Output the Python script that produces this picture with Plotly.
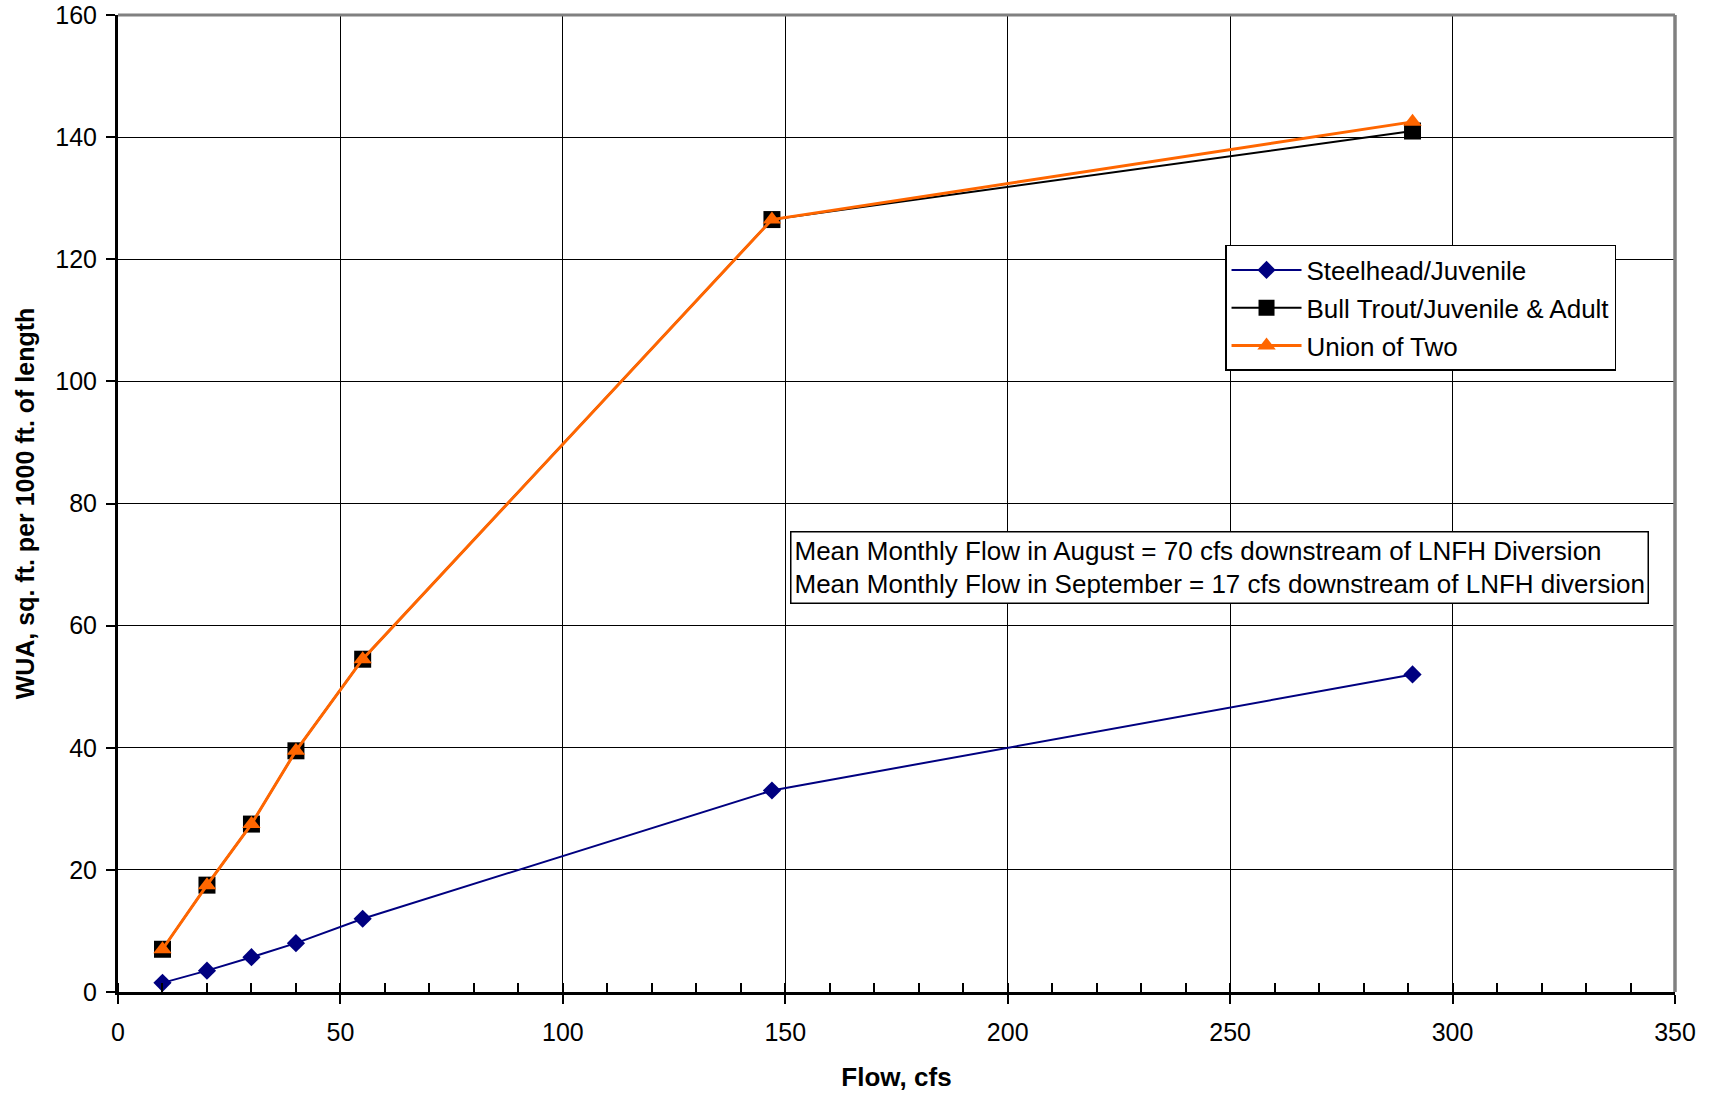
import plotly.graph_objects as go

flow = [10, 20, 30, 40, 55, 147, 291]
steelhead = [1.5, 3.5, 5.7, 8.0, 12.0, 33.0, 52.0]
bull_trout = [7.0, 17.5, 27.5, 39.5, 54.5, 126.5, 141.0]
union_two = [7.0, 17.5, 27.5, 39.5, 54.5, 126.5, 142.5]

x_ticks = [0, 50, 100, 150, 200, 250, 300, 350]
y_ticks = [0, 20, 40, 60, 80, 100, 120, 140, 160]

FONT = "Liberation Sans, Arial, sans-serif"

fig = go.Figure()
fig.add_trace(go.Scatter(x=flow, y=steelhead, name="Steelhead/Juvenile", mode="lines+markers",
                         legendgroup="a",
                         line=dict(color="#000080", width=2),
                         marker=dict(symbol="diamond", size=14, color="#000080")))
fig.add_trace(go.Scatter(x=flow, y=bull_trout, name="Bull Trout/Juvenile & Adult", mode="lines+markers",
                         legendgroup="b",
                         line=dict(color="#000000", width=2),
                         marker=dict(symbol="square", size=17, color="#000000")))
fig.add_trace(go.Scatter(x=flow, y=union_two, name="Union of Two", mode="lines+markers",
                         legendgroup="c",
                         line=dict(color="#FF6600", width=3),
                         marker=dict(symbol="triangle-up", size=16, color="#FF6600")))

fig.update_layout(
    width=1711, height=1094,
    margin=dict(l=118, r=36, t=15, b=102, autoexpand=False),
    paper_bgcolor="white", plot_bgcolor="white",
    font=dict(family=FONT, size=25, color="#000000"),
    showlegend=True,
    legend=dict(x=0.711, y=0.7646, xanchor="left", yanchor="top",
                bordercolor="#000000", borderwidth=1.5, bgcolor="white",
                font=dict(size=26, family=FONT), tracegroupgap=1, itemwidth=70),
    xaxis=dict(range=[0, 350], tickvals=x_ticks, ticktext=[str(v) for v in x_ticks],
               showgrid=True, gridcolor="#000000", gridwidth=1.4,
               showline=True, linecolor="#000000", linewidth=2.5,
               ticks="outside", ticklen=9, tickwidth=1.5, tickcolor="#000000",
               minor=dict(dtick=10, tick0=0, ticks="inside", ticklen=9, tickwidth=1.5,
                          tickcolor="#000000", showgrid=False),
               zeroline=False, ticklabelstandoff=7, automargin=False,
               ticklabeloverflow="allow",
               tickfont=dict(size=25, family=FONT),
               title=dict(text="<b>Flow, cfs</b>", font=dict(size=26, family=FONT), standoff=24)),
    yaxis=dict(range=[0, 160], tickvals=y_ticks, ticktext=[str(v) for v in y_ticks],
               showgrid=True, gridcolor="#000000", gridwidth=1.4,
               showline=True, linecolor="#000000", linewidth=3,
               ticks="outside", ticklen=9, tickwidth=1.5, tickcolor="#000000",
               zeroline=False, ticklabelstandoff=4, automargin=False,
               ticklabeloverflow="allow",
               tickfont=dict(size=25, family=FONT),
               title=dict(text="<b>WUA, sq. ft. per 1000 ft. of length</b>", font=dict(size=25, family=FONT), standoff=14)),
    shapes=[
        dict(type="line", xref="paper", yref="paper", x0=0, x1=1, y0=1, y1=1,
             line=dict(color="#808080", width=3)),
        dict(type="line", xref="paper", yref="paper", x0=1, x1=1, y0=0, y1=1,
             line=dict(color="#808080", width=3.5)),
    ],
    annotations=[
        dict(xref="paper", yref="paper", x=0.4316, y=0.4719, xanchor="left", yanchor="top",
             text="Mean Monthly Flow in August = 70 cfs downstream of LNFH Diversion<br>"
                  "Mean Monthly Flow in September = 17 cfs downstream of LNFH diversion",
             align="left", showarrow=False, font=dict(size=26, family=FONT),
             bordercolor="#000000", borderwidth=1.5, borderpad=3, bgcolor="white"),
    ],
)

fig.write_html("out.html", config={"displayModeBar": False},
               post_script="document.body.style.margin='0';")
